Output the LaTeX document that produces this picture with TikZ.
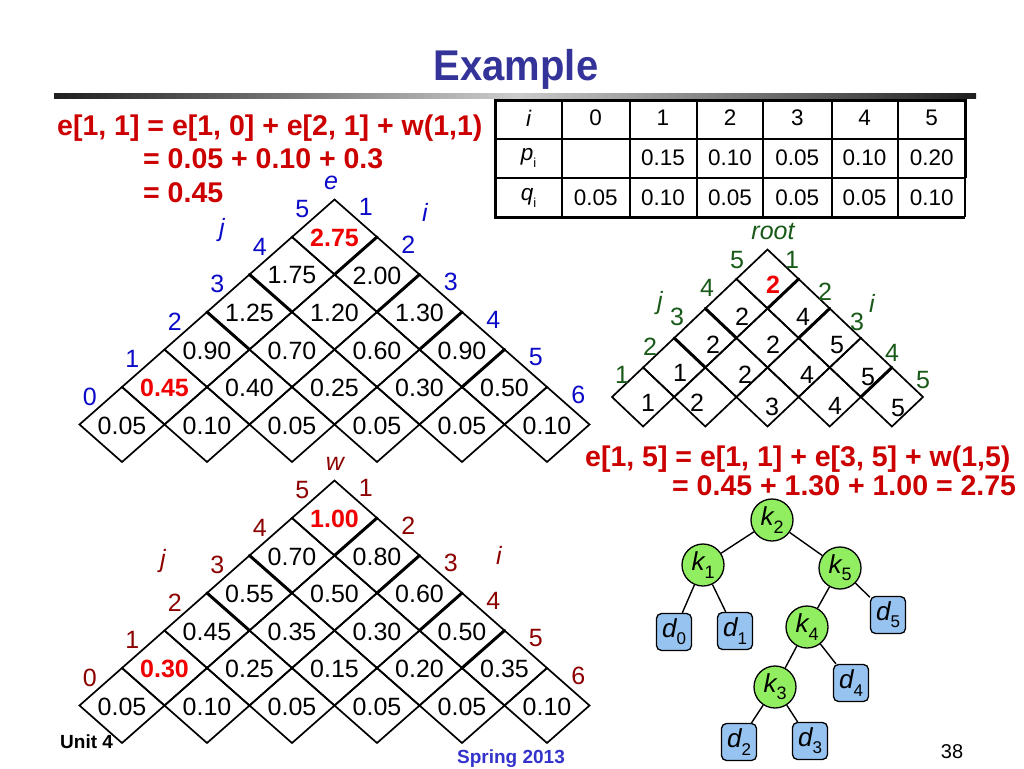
\documentclass[tikz,border=0pt]{standalone}
\usepackage{fontspec}
\setmainfont{Liberation Sans}
\newfontfamily\titlefont{Liberation Sans}[FakeStretch=0.93]
\definecolor{formred}{RGB}{204,0,0}
\definecolor{hired}{RGB}{240,0,0}
\definecolor{eblue}{RGB}{10,10,200}
\definecolor{wred}{RGB}{140,0,0}
\definecolor{rgreen}{RGB}{25,90,25}
\definecolor{titleblue}{RGB}{51,51,153}
\definecolor{springblue}{RGB}{51,51,204}
\definecolor{kgreen}{RGB}{144,238,96}
\definecolor{dblue}{RGB}{150,195,240}
\newcommand\sbsz[2]{\raisebox{-0.28em}{\fontsize{#1}{#1}\selectfont\upshape #2}}
\newcommand\trigrid[5]{%
  \foreach \r in {1,...,#5}{%
    \pgfmathtruncatemacro\cmax{#5-\r}%
    \foreach \c in {0,...,\cmax}{%
      \pgfmathsetmacro\cx{#1+#3*(2*\c+\r)}%
      \pgfmathsetmacro\cy{#2-#4*(\r-1)}%
      \draw[gridln] (\cx-#3,\cy) -- (\cx,\cy-#4) -- (\cx+#3,\cy) -- (\cx,\cy+#4) -- cycle;
    }%
  }%
}
% {xL}{yB}{hw}{hh}{n}{rows with thick lower-right edge of rightmost cell}{rows with thick lower-left edge of leftmost cell}
\newcommand\thickedges[7]{%
  \foreach \r in {#6}{%
    \pgfmathsetmacro\cx{#1+#3*(1+2*(#5-1-\r)+\r)}%
    \pgfmathsetmacro\cy{#2-#4*\r}%
    \draw[gridthick] (\cx+#3,\cy) -- (\cx,\cy+#4);
  }%
  \foreach \r in {#7}{%
    \pgfmathsetmacro\cx{#1+#3*(1+\r)}%
    \pgfmathsetmacro\cy{#2-#4*\r}%
    \draw[gridthick] (\cx-#3,\cy) -- (\cx,\cy+#4);
  }%
}
% [style]{xL}{yB}{hw}{hh}{prefix}{r/c/v list}
\newcommand\trivals[7][val]{%
  \foreach \r/\c/\v in {#7}{%
    \pgfmathsetmacro\cx{#2+#4*(1+2*\c+\r)}%
    \pgfmathsetmacro\cy{#3-#5*\r+1}%
    \node[#1] (#6-\r-\c) at (\cx,\cy) {\v};
  }%
}
% [style]{xL}{yB}{hw}{hh}{n}{prefix}{left list}{right list}
\newcommand\trilabels[9][elab]{%
  \foreach \t [count=\k from 0] in {#8}{%
    \pgfmathsetmacro\lx{#2+#4*(\k+0.5)-11}%
    \pgfmathsetmacro\ly{#3-#5*(\k+0.5)-9}%
    \node[#1] (#7-L\k) at (\lx,\ly) {\t};
  }%
  \foreach \t [count=\k from 0] in {#9}{%
    \pgfmathsetmacro\lx{#2+#4*(#6+\k+0.5)+10}%
    \pgfmathsetmacro\ly{#3-#5*(#6-\k-0.5)-11}%
    \node[#1] (#7-R\k) at (\lx,\ly) {\t};
  }%
}
\tikzset{
  gridln/.style={line width=1.7pt, line join=miter},
  gridthick/.style={line width=3pt, line cap=round},
  val/.style={font=\fontsize{25}{25}\selectfont, inner sep=0pt},
  redval/.style={font=\fontsize{25}{25}\selectfont\bfseries, text=hired, inner sep=0pt},
  elab/.style={font=\fontsize{25}{25}\selectfont, text=eblue, inner sep=0pt},
  wlab/.style={font=\fontsize{25}{25}\selectfont, text=wred, inner sep=0pt},
  rlab/.style={font=\fontsize{25}{25}\selectfont, text=rgreen, inner sep=0pt},
  form/.style={font=\fontsize{28.5}{28.5}\selectfont\bfseries, text=formred, inner sep=0pt, anchor=base west},
  tcell/.style={font=\fontsize{22.5}{22.5}\selectfont, inner sep=0pt},
  knode/.style={circle, draw=black, line width=1.3pt, fill=kgreen, minimum size=42pt, inner sep=0pt,
    font=\fontsize{26}{26}\selectfont\itshape},
  dnode/.style={rectangle, rounded corners=5pt, draw=black, line width=1.3pt, fill=dblue,
    minimum width=35pt, minimum height=37pt, inner sep=0pt, font=\fontsize{26}{26}\selectfont\itshape},
  tedge/.style={line width=1.4pt},
  thin/.style={line width=1.2pt},
  thick3/.style={line width=3pt}
}
\begin{document}
\begin{tikzpicture}[x=1pt,y=-1pt]
\useasboundingbox[fill=white] (0,0) rectangle (1024,768);

% title and bar
\node[font=\titlefont\fontsize{43}{43}\selectfont\bfseries, text=titleblue, anchor=base, inner sep=0pt] (title) at (516,80) {Example};
\shade[left color=black!88, right color=black!88, middle color=black!20] (54,93) rectangle (976,98);

% formulas
\node[form] (f1a) at (57,135) {e[1, 1] = e[1, 0] + e[2, 1] + w(1,1)};
\node[form] (f1b) at (143,168) {= 0.05 + 0.10 + 0.3};
\node[form] (f1c) at (143,202) {= 0.45};
\node[form] (f2a) at (585,466) {e[1, 5] = e[1, 1] + e[3, 5] + w(1,5)};
\node[form] (f2b) at (672,495) {= 0.45 + 1.30 + 1.00 = 2.75};

% table
\foreach \x in {562,630,697,763,832,898} \draw[thin] (\x,100) -- (\x,217);
\draw[thin] (495,139) -- (965,139);
\draw[thin] (495,178) -- (965,178);
\draw[thick3] (965,178) -- (965,100) -- (495,100) -- (495,217) -- (965,217);
\draw[thin] (965,178) -- (965,217);
\foreach \t [count=\i from 0] in {{\itshape i},0,1,2,3,4,5}{%
  \pgfmathsetmacro\tx{528.5+67.2*\i}
  \node[tcell] (ta-\i) at (\tx,118) {\t};}
\foreach \t [count=\i from 0] in {{\itshape p\sbsz{13}{i}},{},0.15,0.10,0.05,0.10,0.20}{%
  \pgfmathsetmacro\tx{528.5+67.2*\i}
  \node[tcell] (tb-\i) at (\tx,158) {\t};}
\foreach \t [count=\i from 0] in {{\itshape q\sbsz{13}{i}},0.05,0.10,0.05,0.05,0.05,0.10}{%
  \pgfmathsetmacro\tx{528.5+67.2*\i}
  \node[tcell] (tc-\i) at (\tx,198) {\t};}

% e triangle
\trigrid{79.5}{424.5}{42.5}{37.5}{6}
\thickedges{79.5}{424.5}{42.5}{37.5}{6}{2,3,4,5}{3,4}
\trivals{79.5}{424.5}{42.5}{37.5}{e}{0/0/0.05,0/1/0.10,0/2/0.05,0/3/0.05,0/4/0.05,0/5/0.10,1/1/0.40,1/2/0.25,1/3/0.30,1/4/0.50,2/0/0.90,2/1/0.70,2/2/0.60,2/3/0.90,3/0/1.25,3/1/1.20,3/2/1.30,4/0/1.75,4/1/2.00}
\trivals[redval]{79.5}{424.5}{42.5}{37.5}{e}{1/0/0.45,5/0/2.75}
\trilabels[elab]{79.5}{424.5}{42.5}{37.5}{6}{e}{0,1,2,3,4,5}{1,2,3,4,5,6}
\node[elab, font=\fontsize{25}{25}\selectfont\itshape] (elabel) at (331,183) {e};
\node[elab, font=\fontsize{25}{25}\selectfont\itshape] (ej) at (222,230) {j};
\node[elab, font=\fontsize{25}{25}\selectfont\itshape] (ei) at (425,212) {i};

% w triangle
\trigrid{79.5}{705.5}{42.5}{37.5}{6}
\thickedges{79.5}{705.5}{42.5}{37.5}{6}{2,3,4,5}{3,4}
\trivals{79.5}{705.5}{42.5}{37.5}{w}{0/0/0.05,0/1/0.10,0/2/0.05,0/3/0.05,0/4/0.05,0/5/0.10,1/1/0.25,1/2/0.15,1/3/0.20,1/4/0.35,2/0/0.45,2/1/0.35,2/2/0.30,2/3/0.50,3/0/0.55,3/1/0.50,3/2/0.60,4/0/0.70,4/1/0.80}
\trivals[redval]{79.5}{705.5}{42.5}{37.5}{w}{1/0/0.30,5/0/1.00}
\trilabels[wlab]{79.5}{705.5}{42.5}{37.5}{6}{w}{0,1,2,3,4,5}{1,2,3,4,5,6}
\node[wlab, font=\fontsize{25}{25}\selectfont\itshape] (wlabel) at (335,464) {w};
\node[wlab, font=\fontsize{25}{25}\selectfont\itshape] (wj) at (163,561) {j};
\node[wlab, font=\fontsize{25}{25}\selectfont\itshape] (wi) at (499,555) {i};

% root triangle
\trigrid{612}{397}{31.1}{29.5}{5}
\thickedges{612}{397}{31.1}{29.5}{5}{1,3,4}{2,3}
\foreach \x/\y/\v [count=\n] in {648/403/1,697/403/2,772/407/3,835/406/4,898/408/5,
  680/373/1,745/375/2,807/375/4,868/377/5,713/345/2,773/345/2,837/345/5,742/317/2,803/317/4}
  \node[val] (rv\n) at (\x,\y) {\v};
\node[redval] (rv15) at (773,285) {2};
\node[rlab, font=\fontsize{25}{25}\selectfont\itshape] (rootlab) at (773,232) {root};
\node[rlab, font=\fontsize{25}{25}\selectfont\itshape] (rj) at (660,303) {j};
\node[rlab, font=\fontsize{25}{25}\selectfont\itshape] (ri) at (872,303) {i};
\foreach \x/\y/\v [count=\n] in {622/375/1,650/347/2,677/317/3,707/288/4,737/260/5,
  792/260/1,825/292/2,857/322/3,892/353/4,923/380/5}
  \node[rlab] (rl\n) at (\x,\y) {\v};

% tree
\node[knode] (k2) at (772,520) {k\sbsz{18}{2}};
\node[knode] (k1) at (703,565) {k\sbsz{18}{1}};
\node[knode] (k5) at (840,568) {k\sbsz{18}{5}};
\node[knode] (k4) at (807,627) {k\sbsz{18}{4}};
\node[knode] (k3) at (775,687) {k\sbsz{18}{3}};
\node[dnode] (d0) at (674,632) {d\sbsz{17}{0}};
\node[dnode] (d1) at (735,631) {d\sbsz{17}{1}};
\node[dnode] (d5) at (888,615) {d\sbsz{17}{5}};
\node[dnode] (d4) at (851,683) {d\sbsz{17}{4}};
\node[dnode] (d2) at (739,742) {d\sbsz{17}{2}};
\node[dnode] (d3) at (810,741) {d\sbsz{17}{3}};
\foreach \a/\b in {k2/k1,k2/k5,k1/d0,k1/d1,k5/k4,k5/d5,k4/k3,k4/d4,k3/d2,k3/d3}
  \draw[tedge] (\a) -- (\b);

% footer
\node[font=\fontsize{19}{19}\selectfont\bfseries, anchor=base west, inner sep=0pt] (unit) at (60,748) {Unit 4};
\node[font=\fontsize{19}{19}\selectfont\bfseries, text=springblue, anchor=base, inner sep=0pt] (spring) at (511,763) {Spring 2013};
\node[font=\fontsize{20}{20}\selectfont, anchor=base, inner sep=0pt] (page) at (952,758) {38};
\end{tikzpicture}
\end{document}
